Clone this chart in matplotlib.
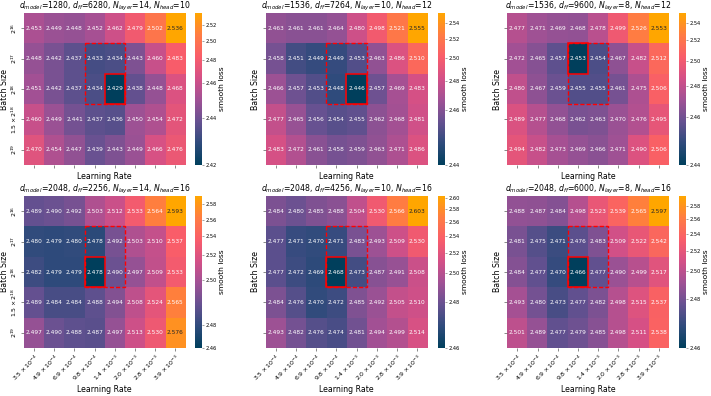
import numpy as np
import matplotlib
matplotlib.use("Agg")
import matplotlib.pyplot as plt
from matplotlib.colors import LinearSegmentedColormap, FuncNorm
from matplotlib.patches import Rectangle

# axis categories
lr_labels = [r"$3.5\times10^{-4}$", r"$4.9\times10^{-4}$", r"$6.9\times10^{-4}$",
             r"$9.8\times10^{-4}$", r"$1.4\times10^{-3}$", r"$2.0\times10^{-3}$",
             r"$2.8\times10^{-3}$", r"$3.9\times10^{-3}$"]
bs_labels = [r"$2^{16}$", r"$2^{17}$", r"$2^{18}$", r"$1.5\times2^{18}$", r"$2^{19}$"]

# (d_model, d_ff, n_layer, n_head) per panel
configs = [(1280, 6280, 14, 10), (1536, 7264, 10, 12), (1536, 9600, 8, 12),
           (2048, 2256, 14, 16), (2048, 4256, 10, 16), (2048, 6000, 8, 16)]

loss_1 = [[2.453, 2.449, 2.448, 2.452, 2.462, 2.479, 2.502, 2.536],
          [2.448, 2.442, 2.437, 2.433, 2.434, 2.443, 2.460, 2.483],
          [2.451, 2.442, 2.437, 2.434, 2.429, 2.438, 2.448, 2.468],
          [2.460, 2.449, 2.441, 2.437, 2.436, 2.450, 2.454, 2.472],
          [2.470, 2.454, 2.447, 2.439, 2.443, 2.449, 2.466, 2.476]]
loss_2 = [[2.463, 2.461, 2.461, 2.464, 2.480, 2.498, 2.521, 2.555],
          [2.458, 2.451, 2.449, 2.449, 2.453, 2.463, 2.486, 2.510],
          [2.466, 2.457, 2.453, 2.448, 2.446, 2.457, 2.469, 2.483],
          [2.477, 2.465, 2.456, 2.454, 2.455, 2.462, 2.468, 2.481],
          [2.483, 2.472, 2.461, 2.458, 2.459, 2.463, 2.471, 2.486]]
loss_3 = [[2.477, 2.471, 2.469, 2.468, 2.478, 2.499, 2.526, 2.553],
          [2.472, 2.465, 2.457, 2.453, 2.454, 2.467, 2.482, 2.512],
          [2.480, 2.467, 2.459, 2.455, 2.455, 2.461, 2.475, 2.506],
          [2.489, 2.477, 2.468, 2.462, 2.463, 2.470, 2.476, 2.495],
          [2.494, 2.482, 2.473, 2.469, 2.466, 2.471, 2.490, 2.506]]
loss_4 = [[2.489, 2.490, 2.492, 2.503, 2.512, 2.533, 2.564, 2.593],
          [2.480, 2.479, 2.480, 2.478, 2.492, 2.503, 2.510, 2.537],
          [2.482, 2.479, 2.479, 2.478, 2.490, 2.497, 2.509, 2.533],
          [2.489, 2.484, 2.484, 2.488, 2.494, 2.508, 2.524, 2.565],
          [2.497, 2.490, 2.488, 2.487, 2.497, 2.513, 2.530, 2.576]]
loss_5 = [[2.484, 2.480, 2.485, 2.488, 2.504, 2.530, 2.566, 2.603],
          [2.477, 2.471, 2.470, 2.471, 2.483, 2.493, 2.509, 2.530],
          [2.477, 2.472, 2.469, 2.468, 2.473, 2.487, 2.491, 2.508],
          [2.484, 2.476, 2.470, 2.472, 2.485, 2.492, 2.505, 2.510],
          [2.493, 2.482, 2.476, 2.474, 2.481, 2.494, 2.499, 2.514]]
loss_6 = [[2.488, 2.487, 2.484, 2.498, 2.523, 2.539, 2.565, 2.597],
          [2.481, 2.475, 2.471, 2.476, 2.483, 2.509, 2.522, 2.542],
          [2.484, 2.477, 2.470, 2.466, 2.477, 2.490, 2.499, 2.517],
          [2.493, 2.480, 2.473, 2.477, 2.482, 2.498, 2.515, 2.537],
          [2.501, 2.489, 2.477, 2.479, 2.485, 2.498, 2.511, 2.538]]
losses = [loss_1, loss_2, loss_3, loss_4, loss_5, loss_6]

# (row, col) of the best cell in each panel
best_cells = [(2, 4), (2, 4), (1, 3), (2, 3), (2, 3), (2, 3)]

# colour scale: tick values and where they sit along the colorbar (0 = bottom)
cbar_ticks = [[2.42, 2.44, 2.46, 2.48, 2.50, 2.52],
              [2.44, 2.46, 2.48, 2.50, 2.52, 2.54],
              [2.44, 2.46, 2.48, 2.50, 2.52, 2.54],
              [2.46, 2.48, 2.50, 2.52, 2.54, 2.56, 2.58],
              [2.46, 2.48, 2.50, 2.52, 2.54, 2.56, 2.58, 2.60],
              [2.46, 2.48, 2.50, 2.52, 2.54, 2.56, 2.58]]
cbar_frac = [[0, 0.312, 0.539, 0.693, 0.816, 0.922],
             [0, 0.362, 0.554, 0.706, 0.827, 0.935],
             [0, 0.314, 0.519, 0.686, 0.823, 0.935],
             [0, 0.150, 0.447, 0.611, 0.735, 0.845, 0.946],
             [0, 0.304, 0.491, 0.626, 0.735, 0.830, 0.915, 0.985],
             [0, 0.324, 0.505, 0.639, 0.752, 0.847, 0.935]]

cmap = LinearSegmentedColormap.from_list(
    "loss", ["#003f5c", "#2f4b7c", "#665191", "#a05195",
             "#d45087", "#f95d6a", "#ff7c43", "#ffa600"])


def luminance(rgb):
    c = np.array(rgb[:3])
    c = np.where(c <= 0.03928, c / 12.92, ((c + 0.055) / 1.055) ** 2.4)
    return 0.2126 * c[0] + 0.7152 * c[1] + 0.0722 * c[2]


W, H = 711, 396
fig = plt.figure(figsize=(W / 100, H / 100), dpi=100)

col_left = [24, 265.7, 507.3]
cbar_left = [195, 437.5, 678.5]
row_top = [13, 196]
ax_w, ax_h, cb_w = 161.5, 152, 7.3

for i, vals in enumerate(losses):
    vals = np.array(vals)
    r_i, c_i = divmod(i, 3)
    bottom = (H - row_top[r_i] - ax_h) / H
    ax = fig.add_axes([col_left[c_i] / W, bottom, ax_w / W, ax_h / H])
    cax = fig.add_axes([cbar_left[c_i] / W, bottom, cb_w / W, ax_h / H])

    vmax = vals.max()
    xs = np.r_[cbar_ticks[i], vmax]
    ys = np.r_[cbar_frac[i], 1.0]
    if xs[-2] >= vmax:
        xs, ys = xs[:-1], ys[:-1]
        xs[-1], ys[-1] = vmax, 1.0
    norm = FuncNorm((lambda v, xs=xs, ys=ys: np.interp(v, xs, ys),
                     lambda v, xs=xs, ys=ys: np.interp(v, ys, xs)),
                    vmin=xs[0], vmax=xs[-1])

    # best cell gets the bottom colour of the scale
    shade = vals.copy()
    shade[best_cells[i]] = xs[0]
    im = ax.imshow(shade, cmap=cmap, norm=norm, aspect="auto", interpolation="nearest")

    for r in range(vals.shape[0]):
        for c in range(vals.shape[1]):
            lum = luminance(cmap(float(norm(shade[r, c]))))
            ax.text(c, r, f"{vals[r, c]:.3f}", ha="center", va="center", fontsize=4.2,
                    color="0.15" if lum > 0.408 else "white")

    ax.add_patch(Rectangle((2.5, 0.5), 2, 2, fill=False, ec="red", lw=1.0, ls=(0, (3, 1.5))))
    br, bc = best_cells[i]
    ax.add_patch(Rectangle((bc - 0.5, br - 0.5), 1, 1, fill=False, ec="red", lw=1.1))

    for s in ax.spines.values():
        s.set_visible(False)
    ax.set_xticks(range(len(lr_labels)))
    ax.set_yticks(range(len(bs_labels)))
    ax.tick_params(length=2.5, width=0.5, color="0.35", pad=0.8)
    if r_i == 1:
        ax.set_xticklabels(lr_labels, rotation=45, ha="right", rotation_mode="anchor", fontsize=4.5)
    else:
        ax.set_xticklabels([])
    if c_i == 0:
        ax.set_yticklabels(bs_labels, rotation=90, va="center", fontsize=4.5)
    else:
        ax.set_yticklabels([])
    ax.set_xlabel("Learning Rate", fontsize=5.6, labelpad=1.5)
    ax.set_ylabel("Batch Size", fontsize=5.6, labelpad=0.8)
    dm, dff, nl, nh = configs[i]
    ax.set_title(rf"$d_{{model}}$={dm}, $d_{{ff}}$={dff}, $N_{{layer}}$={nl}, $N_{{head}}$={nh}",
                 fontsize=5.6, pad=0.3)

    cb = fig.colorbar(im, cax=cax)
    cb.outline.set_visible(False)
    ticks = [t for t in cbar_ticks[i] if t <= xs[-1] + 1e-9]
    cb.set_ticks(ticks, labels=[f"{t:.2f}" for t in ticks])
    cb.ax.minorticks_off()
    cb.ax.tick_params(labelsize=3.7, length=1.6, width=0.4, pad=0.8, color="0.35")
    cb.set_label("smooth loss", fontsize=5.4)
    cb.ax.yaxis.set_label_coords(3.35, 0.5)

fig.savefig("out.png", dpi=100)
